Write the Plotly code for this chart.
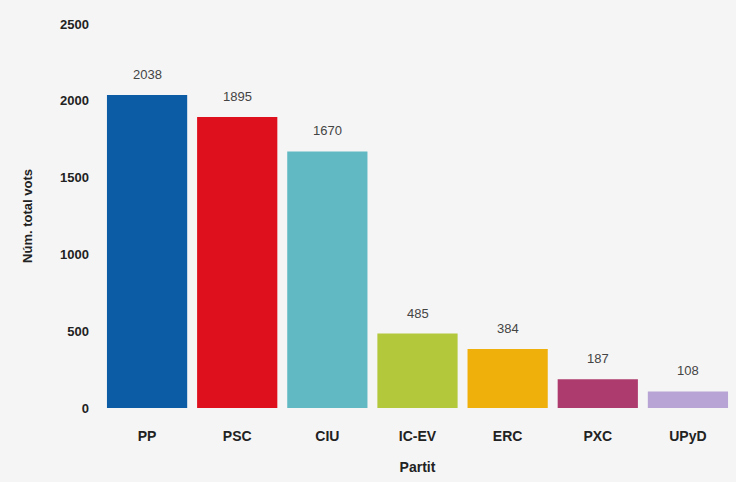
import plotly.graph_objects as go

parties = ["PP", "PSC", "CIU", "IC-EV", "ERC", "PXC", "UPyD"]
votes = [2038, 1895, 1670, 485, 384, 187, 108]
colors = ["#0b5ba5", "#df101d", "#61b9c3", "#b3c83a", "#f0b00c", "#ae3b6d", "#b8a5d6"]
y_ticks = [0, 500, 1000, 1500, 2000, 2500]

fig = go.Figure(go.Bar(
    x=parties, y=votes,
    marker=dict(color=colors, line=dict(width=0)),
    hoverinfo="x+y",
))

for p, v in zip(parties, votes):
    fig.add_annotation(
        x=p, y=v, text=str(v), showarrow=False, yanchor="bottom", yshift=11,
        font=dict(family="Liberation Sans, Arial", size=13, color="#444444"),
    )

fig.update_layout(
    width=736, height=482,
    margin=dict(l=102, r=3, t=24, b=74),
    paper_bgcolor="#f5f5f5", plot_bgcolor="#f5f5f5",
    bargap=0.11,
    showlegend=False,
    font=dict(family="Liberation Sans, Arial", color="#222222"),
)
fig.update_xaxes(
    showgrid=False, showline=False, ticks="",
    tickfont=dict(size=14, family="Liberation Sans, Arial", weight="bold", color="#222222"),
    ticklabelstandoff=18,
    title=dict(text="<b>Partit</b>", font=dict(size=14), standoff=19),
)
fig.update_yaxes(
    range=[0, 2500], tickvals=y_ticks, showgrid=False, zeroline=False, showline=False,
    tickfont=dict(size=13, family="Liberation Sans, Arial", weight="bold", color="#222222"),
    ticklabelstandoff=12,
    title=dict(text="<b>Núm. total vots</b>", font=dict(size=13), standoff=24),
)

fig.write_html(
    "out.html",
    config={"displayModeBar": False},
    post_script="document.body.style.margin='0';document.body.style.background='#f5f5f5';",
)
